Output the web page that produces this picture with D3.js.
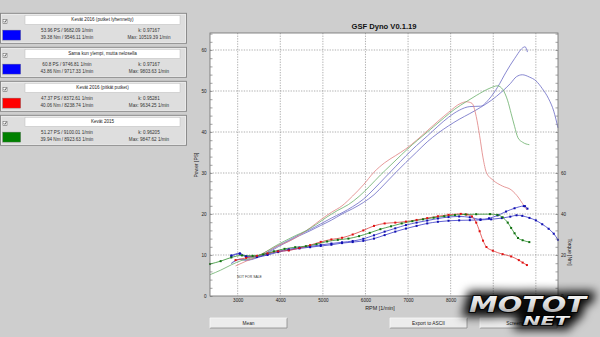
<!DOCTYPE html>
<html><head><meta charset="utf-8">
<script src="https://cdn.jsdelivr.net/npm/d3@7"></script>
<style>
html,body{margin:0;padding:0;background:#cecece;}
svg{display:block;font-family:"Liberation Sans",Arial,sans-serif;}
</style></head><body>
<svg id="chart" width="600" height="337"></svg>
<script>
// Legend panel content for each dyno run
const runNames = ["Kevät 2016 (putket lyhennetty)", "Sama kun ylempi, mutta nelosella", "Kevät 2016 (pitkät putket)", "Kevät 2015"];
const runColors = ["#0000ff", "#0000ff", "#ff0000", "#008000"];
const peakPowerText = ["53.96 PS / 9682.09 1/min", "60.8 PS / 9746.81 1/min", "47.37 PS / 8372.61 1/min", "51.27 PS / 9100.01 1/min"];
const peakTorqueText = ["39.38 Nm / 9546.11 1/min", "43.86 Nm / 9717.33 1/min", "40.06 Nm / 8238.74 1/min", "39.94 Nm / 8923.63 1/min"];
const kText = ["k: 0.97167", "k: 0.97167", "k: 0.95281", "k: 0.96205"];
const maxText = ["Max: 10519.39 1/min", "Max: 9803.63 1/min", "Max: 9634.25 1/min", "Max: 9847.62 1/min"];

// Run 1 (blue): engine speed [1/min], torque [Nm], power [PS]
const rpm1 = [2850, 3050, 3200, 3450, 3700, 3950, 4200, 4450, 4700, 4950, 5200, 5450, 5700, 5950, 6200, 6450, 6700, 6950, 7200, 7450, 7700, 7950, 8200, 8450, 8700, 8950, 9200, 9400, 9546, 9682, 9850, 10000, 10150, 10300, 10420, 10519];
const torque1 = [19.4, 20.6, 19.0, 19.0, 20.0, 21.4, 22.4, 23.2, 23.8, 24.4, 25.0, 25.8, 26.3, 26.9, 28.0, 29.7, 31.4, 32.9, 34.2, 35.4, 36.2, 36.7, 36.9, 37.0, 37.1, 37.4, 38.0, 38.7, 39.38, 39.1, 38.1, 36.9, 35.0, 32.8, 30.4, 27.4];
const power1 = [7.9, 8.9, 8.7, 9.3, 10.5, 12.0, 13.4, 14.7, 15.9, 17.2, 18.5, 20.0, 21.3, 22.8, 24.7, 27.3, 30.0, 32.6, 35.1, 37.6, 39.7, 41.5, 43.1, 44.5, 46.0, 47.7, 49.8, 51.8, 53.5, 53.96, 53.4, 52.5, 50.6, 48.1, 45.1, 41.0];

// Run 2 (blue, 4th gear)
const rpm2 = [2850, 3050, 3200, 3450, 3700, 3950, 4200, 4450, 4700, 4950, 5200, 5450, 5700, 5950, 6200, 6450, 6700, 6950, 7200, 7450, 7700, 7950, 8200, 8450, 8700, 8900, 9100, 9300, 9500, 9717, 9746, 9803];
const torque2 = [19.8, 20.8, 19.4, 19.2, 20.4, 21.8, 22.8, 23.6, 24.2, 24.9, 25.6, 26.2, 26.8, 27.9, 29.6, 31.4, 33.0, 34.6, 35.8, 36.8, 37.8, 38.5, 38.8, 38.4, 37.4, 37.9, 39.3, 41.2, 42.8, 43.86, 43.8, 42.6];
const power2 = [8.0, 9.0, 8.8, 9.4, 10.7, 12.3, 13.6, 15.0, 16.2, 17.6, 19.0, 20.3, 21.8, 23.6, 26.1, 28.8, 31.5, 34.2, 36.7, 39.0, 41.4, 43.6, 45.3, 46.2, 46.3, 48.0, 50.9, 54.6, 57.9, 60.7, 60.8, 59.5];

// Run 3 (red, long pipes)
const rpm3 = [2950, 3200, 3450, 3700, 3950, 4200, 4450, 4700, 4950, 5200, 5450, 5700, 5950, 6200, 6450, 6700, 6950, 7200, 7450, 7700, 7950, 8238, 8372, 8500, 8600, 8680, 8760, 8840, 8990, 9220, 9420, 9600, 9690, 9790];
const torque3 = [17.5, 18.6, 19.6, 20.8, 21.8, 22.2, 23.4, 24.8, 26.4, 27.6, 28.4, 30.0, 32.0, 34.2, 35.4, 35.8, 36.3, 37.1, 38.0, 38.9, 39.6, 40.06, 39.74, 38.8, 35.8, 31.6, 27.0, 23.9, 22.1, 20.4, 19.3, 17.5, 16.3, 15.1];
const power3 = [7.35, 8.5, 9.6, 11.0, 12.3, 13.3, 14.8, 16.6, 18.6, 20.4, 22.0, 24.4, 27.1, 30.2, 32.5, 34.2, 35.9, 38.0, 40.3, 42.6, 44.8, 47.0, 47.37, 47.0, 43.8, 39.1, 33.7, 30.1, 28.3, 26.8, 25.9, 23.9, 22.5, 21.0];

// Run 4 (green, 2015)
const rpm4 = [2350, 2600, 2850, 3100, 3350, 3600, 3850, 4100, 4350, 4600, 4850, 5100, 5350, 5600, 5850, 6100, 6350, 6600, 6850, 7100, 7350, 7600, 7850, 8100, 8350, 8600, 8923, 9100, 9220, 9340, 9420, 9500, 9580, 9690, 9847];
const torque4 = [15.6, 17.0, 18.8, 19.8, 19.6, 20.3, 21.8, 23.0, 23.8, 24.3, 25.3, 26.6, 27.4, 28.0, 29.2, 30.8, 32.6, 34.0, 35.4, 36.5, 37.4, 38.2, 38.9, 39.5, 39.8, 39.9, 39.94, 39.57, 38.4, 35.8, 33.2, 30.6, 28.3, 27.2, 26.3];
const power4 = [5.2, 6.3, 7.6, 8.7, 9.35, 10.4, 12.0, 13.4, 14.7, 15.9, 17.5, 19.3, 20.9, 22.3, 24.3, 26.8, 29.5, 32.0, 34.5, 36.9, 39.1, 41.3, 43.5, 45.6, 47.3, 48.9, 50.7, 51.27, 50.4, 47.6, 44.5, 41.4, 38.6, 37.5, 36.9];

// Axis ticks
const rpmTicks = [3000, 4000, 5000, 6000, 7000, 8000, 9000, 10000];
const powerTicks = [0, 10, 20, 30, 40, 50, 60];
const torqueTicks = [0, 20, 40, 60];

// Drawing colours per run: power line, torque line, torque markers
const powerStroke = ["#6a6ac4", "#6a6ac4", "#e08080", "#6aae6a"];
const torqueStroke = ["#3a3ac8", "#3a3ac8", "#e04040", "#2f8f2f"];
const markerFill = ["#1010b0", "#1010b0", "#e01010", "#107010"];

const svg = d3.select("#chart");
const W = 600, H = 337;
const plot = {left: 210, right: 558, top: 33, bottom: 296};

svg.append("rect").attr("width", W).attr("height", H).attr("fill", "#cecece");

const x = d3.scaleLinear().domain([2350, 10520]).range([plot.left, plot.right]);
const yP = d3.scaleLinear().domain([0, 64.15]).range([plot.bottom, plot.top]);
const yT = d3.scaleLinear().domain([0, 128.3]).range([plot.bottom, plot.top]);

// title
svg.append("text").attr("x", 384).attr("y", 29).attr("text-anchor", "middle")
  .attr("font-size", 7.6).attr("font-weight", "bold").attr("fill", "#111")
  .text("GSF Dyno V0.1.19");

// plot background
svg.append("rect").attr("x", plot.left).attr("y", plot.top)
  .attr("width", plot.right - plot.left).attr("height", plot.bottom - plot.top)
  .attr("fill", "#ffffff");

// dotted grid
const grid = svg.append("g").attr("stroke", "#8c8c8c").attr("stroke-width", 0.7).attr("stroke-dasharray", "1.3,1.3");
grid.selectAll("line.v").data(rpmTicks).join("line").attr("class", "v")
  .attr("x1", d => x(d)).attr("x2", d => x(d)).attr("y1", plot.top).attr("y2", plot.bottom);
grid.selectAll("line.h").data(powerTicks.filter(d => d > 0)).join("line").attr("class", "h")
  .attr("x1", plot.left).attr("x2", plot.right).attr("y1", d => yP(d)).attr("y2", d => yP(d));

// minor tick marks on both vertical axes, pointing inwards
const minor = d3.range(0, 64.2, 2);
svg.append("g").attr("transform", `translate(${plot.left},0)`)
  .call(d3.axisRight(yP).tickValues(minor).tickSize(2.5).tickFormat(""))
  .call(g => g.select(".domain").remove())
  .call(g => g.selectAll("line").attr("stroke", "#666").attr("stroke-width", 0.6));
svg.append("g").attr("transform", `translate(${plot.right},0)`)
  .call(d3.axisLeft(yP).tickValues(minor).tickSize(2.5).tickFormat(""))
  .call(g => g.select(".domain").remove())
  .call(g => g.selectAll("line").attr("stroke", "#666").attr("stroke-width", 0.6));

// curves
const runs = [
  {rpm: rpm1, torque: torque1, power: power1},
  {rpm: rpm2, torque: torque2, power: power2},
  {rpm: rpm3, torque: torque3, power: power3},
  {rpm: rpm4, torque: torque4, power: power4}
];
const powerLine = d3.line().x(d => x(d[0])).y(d => yP(d[1])).curve(d3.curveMonotoneX);
const torqueLine = d3.line().x(d => x(d[0])).y(d => yT(d[1])).curve(d3.curveMonotoneX);
const curves = svg.append("g").attr("fill", "none");
runs.forEach((r, i) => {
  const pw = r.rpm.map((v, j) => [v, r.power[j]]);
  const tq = r.rpm.map((v, j) => [v, r.torque[j]]);
  curves.append("path").attr("d", powerLine(pw)).attr("stroke", powerStroke[i]).attr("stroke-width", 0.8);
  curves.append("path").attr("d", torqueLine(tq)).attr("stroke", torqueStroke[i]).attr("stroke-width", 0.8);
  svg.append("g").selectAll("rect").data(tq).join("rect")
    .attr("x", d => x(d[0]) - 1).attr("y", d => yT(d[1]) - 1)
    .attr("width", 2).attr("height", 2).attr("fill", markerFill[i]);
});

// watermark inside the plot
svg.append("text").attr("x", 237).attr("y", 278).attr("font-size", 3.4).attr("fill", "#333").text("NOT FOR SALE");

// plot frame
svg.append("rect").attr("x", plot.left).attr("y", plot.top)
  .attr("width", plot.right - plot.left).attr("height", plot.bottom - plot.top)
  .attr("fill", "none").attr("stroke", "#7a7a7a").attr("stroke-width", 0.9);

// axis labels
const labelStyle = g => g.call(s => s.select(".domain").remove())
  .call(s => s.selectAll("text").attr("font-size", 4.6).attr("fill", "#222").attr("font-family", "Liberation Sans, Arial, sans-serif"));
svg.append("g").attr("transform", `translate(${plot.left},0)`)
  .call(d3.axisLeft(yP).tickValues(powerTicks).tickSize(0).tickPadding(3.5)).call(labelStyle);
svg.append("g").attr("transform", `translate(${plot.right},0)`)
  .call(d3.axisRight(yT).tickValues(torqueTicks).tickSize(0).tickPadding(3)).call(labelStyle);
svg.append("g").attr("transform", `translate(0,${plot.bottom})`)
  .call(d3.axisBottom(x).tickValues(rpmTicks).tickFormat(d3.format("d")).tickSize(0).tickPadding(3.2)).call(labelStyle);

svg.append("text").attr("transform", "translate(197.5,165) rotate(-90)").attr("text-anchor", "middle")
  .attr("font-size", 5).attr("fill", "#222").text("Power [PS]");
svg.append("text").attr("transform", "translate(567.5,252) rotate(90)").attr("text-anchor", "middle")
  .attr("font-size", 5).attr("fill", "#222").text("Torque [Nm]");
svg.append("text").attr("x", 380).attr("y", 310).attr("text-anchor", "middle")
  .attr("font-size", 5.4).attr("fill", "#222").text("RPM [1/min]");

// legend panels
runNames.forEach((name, i) => {
  const top = 13.3 + i * 34;
  const g = svg.append("g").attr("transform", `translate(0,${top})`);
  g.append("rect").attr("x", 0.5).attr("y", 0).attr("width", 186).attr("height", 30)
    .attr("fill", "#dedede").attr("stroke", "#858585").attr("stroke-width", 0.9);
  g.append("rect").attr("x", 1.5).attr("y", 1).attr("width", 184).attr("height", 28)
    .attr("fill", "none").attr("stroke", "#f2f2f2").attr("stroke-width", 0.6);
  // checkbox
  g.append("rect").attr("x", 3).attr("y", 6).attr("width", 4).attr("height", 4)
    .attr("fill", "#fff").attr("stroke", "#555").attr("stroke-width", 0.5);
  g.append("path").attr("d", "M3.8,8 L4.9,9.1 L6.3,6.8").attr("fill", "none").attr("stroke", "#000").attr("stroke-width", 0.6);
  // title field
  g.append("rect").attr("x", 25).attr("y", 2).attr("width", 155).attr("height", 9)
    .attr("fill", "#fff").attr("stroke", "#bdbdbd").attr("stroke-width", 0.5);
  g.append("text").attr("x", 102.5).attr("y", 8.2).attr("text-anchor", "middle")
    .attr("font-size", 4.6).attr("fill", "#222").text(name);
  // colour swatch
  g.append("rect").attr("x", 2.7).attr("y", 16.8).attr("width", 18).attr("height", 10)
    .attr("fill", runColors[i]).attr("stroke", "#777").attr("stroke-width", 0.4);
  const t = (tx, ty, s) => g.append("text").attr("x", tx).attr("y", ty).attr("text-anchor", "middle")
    .attr("font-size", 4.6).attr("fill", "#333").text(s);
  t(67, 18.3, peakPowerText[i]);
  t(67, 26, peakTorqueText[i]);
  t(149, 18.3, kText[i]);
  t(149, 26, maxText[i]);
});

// buttons below the chart
const buttons = [{label: "Mean", x: 210}, {label: "Export to ASCII", x: 390}, {label: "Screenshot", x: 480}];
buttons.forEach(b => {
  const g = svg.append("g").attr("transform", `translate(${b.x},318)`);
  g.append("rect").attr("width", 77).attr("height", 10).attr("fill", "#ececec");
  g.append("path").attr("d", "M0,10 H77 V0").attr("fill", "none").attr("stroke", "#8a8a8a").attr("stroke-width", 0.8);
  g.append("path").attr("d", "M0,10 V0 H77").attr("fill", "none").attr("stroke", "#fafafa").attr("stroke-width", 0.8);
  g.append("text").attr("x", 38.5).attr("y", 6.7).attr("text-anchor", "middle")
    .attr("font-size", 4.8).attr("fill", "#222").text(b.label);
});

// site logo in the lower right corner
const defs = svg.append("defs");
defs.append("filter").attr("id", "glow").attr("x", "-30%").attr("y", "-80%").attr("width", "160%").attr("height", "260%")
  .append("feGaussianBlur").attr("stdDeviation", 5);
const grad = defs.append("linearGradient").attr("id", "chrome").attr("x1", 0).attr("y1", 0).attr("x2", 0).attr("y2", 1);
grad.append("stop").attr("offset", "0%").attr("stop-color", "#ffffff");
grad.append("stop").attr("offset", "55%").attr("stop-color", "#d8d8d8");
grad.append("stop").attr("offset", "100%").attr("stop-color", "#8c8c8c");
const logo = svg.append("g");
const word = (sel, extra) => {
  sel.append("text").attr("x", 469).attr("y", 312).attr("font-family", "DejaVu Sans, sans-serif")
    .attr("font-weight", "bold").attr("font-style", "italic").attr("font-size", 22)
    .attr("textLength", 117).attr("lengthAdjust", "spacingAndGlyphs").text("MOTOT").call(extra);
  sel.append("text").attr("x", 523).attr("y", 325).attr("font-family", "DejaVu Sans, sans-serif")
    .attr("font-weight", "bold").attr("font-style", "italic").attr("font-size", 12)
    .attr("textLength", 46).attr("lengthAdjust", "spacingAndGlyphs").text("NET").call(extra);
};
const shadow = logo.append("g").attr("filter", "url(#glow)");
word(shadow, s => s.attr("fill", "#000").attr("stroke", "#000").attr("stroke-width", 10).attr("opacity", 0.95));
word(logo, s => s.attr("fill", "url(#chrome)").attr("stroke", "#000").attr("stroke-width", 1.6).attr("paint-order", "stroke"));
</script>
</body></html>
